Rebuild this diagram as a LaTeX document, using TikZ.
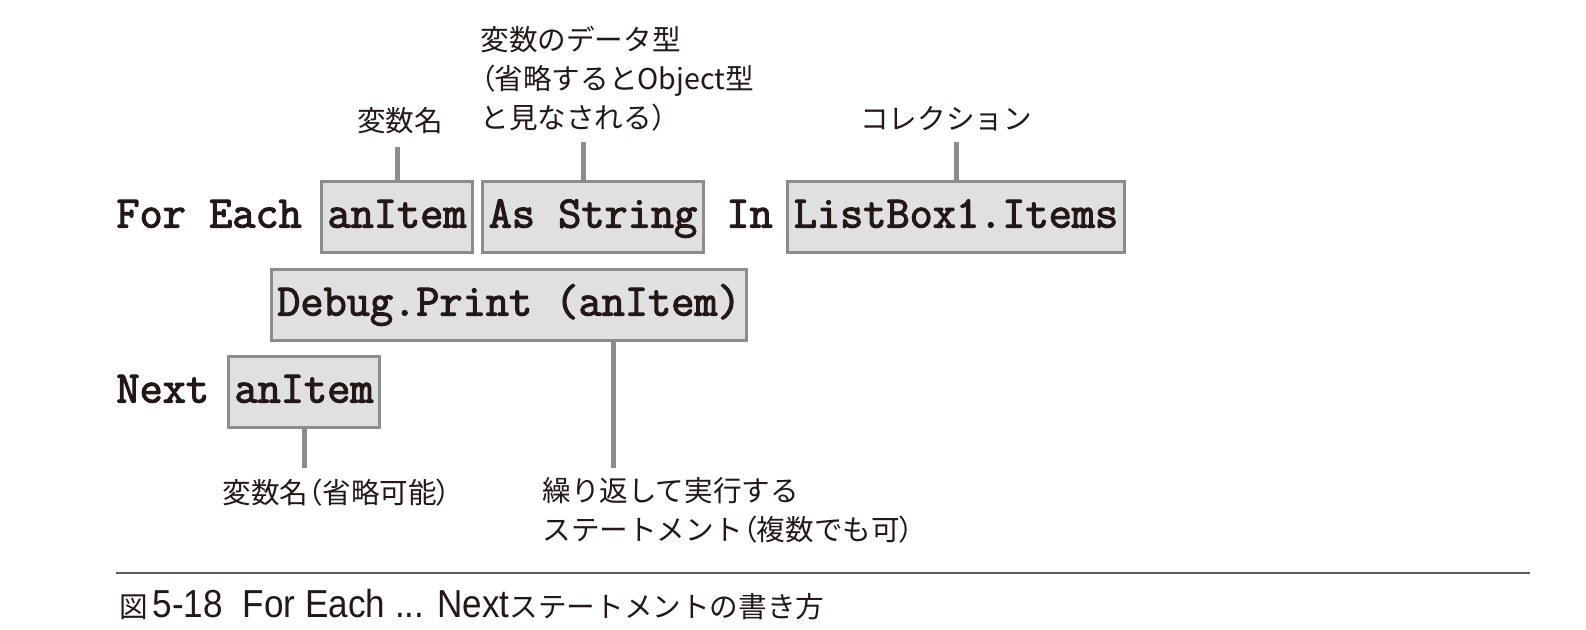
\documentclass[tikz,border=0pt]{standalone}
\usepackage{fontspec}
\setmainfont{Noto Sans CJK JP}
\newfontfamily\parfont{Noto Sans CJK JP}[RawFeature=+palt]
\newfontfamily\caplat{Liberation Sans}[FakeStretch=0.9]
\newfontfamily\codefont{Latin Modern Mono}[FakeBold=2.5]
\newcommand{\lpar}{{\parfont （}}
\newcommand{\rpar}{{\parfont ）}}
\usetikzlibrary{positioning}
\definecolor{ink}{RGB}{35,24,21}
\definecolor{frm}{RGB}{140,140,140}
\definecolor{boxg}{RGB}{224,224,224}
\definecolor{rul}{RGB}{90,90,90}

\begin{document}
\begin{tikzpicture}[x=0.5pt,y=-0.5pt,every node/.style={text=ink},
  cd/.style={font=\codefont\bfseries\fontsize{22.5}{26}\selectfont,
    text height=15pt,text depth=4.5pt},
  bx/.style={cd,draw=frm,fill=boxg,line width=1.5pt,minimum height=35.5pt,
    inner xsep=3pt,inner ysep=0pt},
  kw/.style={cd,anchor=west,inner sep=0pt},
  jp/.style={font=\fontsize{14.3}{19.5}\selectfont,inner sep=0pt},
  ln/.style={frm,line width=2.5pt}]
\useasboundingbox (0,0) rectangle (1586,630);
% code line
\node[kw] (fe) at (116,217) {For Each};
\node[bx] (v1) at (397,217) {anItem};
\node[bx] (ty) at (593,217) {As String};
\node[kw] (in) at (726,217) {In};
\node[bx] (col) at (956,217) {ListBox1.Items};
\node[bx] (st) at (509,305) {Debug.Print (anItem)};
\node[kw] (nx) at (116,392) {Next};
\node[bx] (v2) at (304,392) {anItem};
% labels
\node[jp] (l1) at (400,121) {変数名};
\node[jp,anchor=west,align=left] (l2) at (480,79) {変数のデータ型\\\lpar 省略するとObject型\\と見なされる\rpar};
\node[jp] (l3) at (946,119) {コレクション};
\node[jp,anchor=west] (l4) at (222,493) {変数名\lpar 省略可能\rpar};
\node[jp,anchor=west,align=left] (l5) at (542,510) {繰り返して実行する\\ステートメント\lpar 複数でも可\rpar};
\coordinate (e1) at (397,147); \coordinate (e2) at (583,142);
\coordinate (e3) at (956,142); \coordinate (e4) at (304,468);
\coordinate (e5) at (613,468);
\draw[ln] (v1) -- (e1); \draw[ln] (ty.north -| e2) -- (e2);
\draw[ln] (col) -- (e3); \draw[ln] (v2) -- (e4);
\draw[ln] (st.south -| e5) -- (e5);
% caption
\draw[rul,line width=1pt] (116,573) -- (1530,573);
\node[jp,anchor=west] (cap) at (119,605) {図\,{\caplat\fontsize{19.5}{20}\selectfont 5-18\hspace{10pt}For Each ... Next}ステートメントの書き方};
\end{tikzpicture}
\end{document}
